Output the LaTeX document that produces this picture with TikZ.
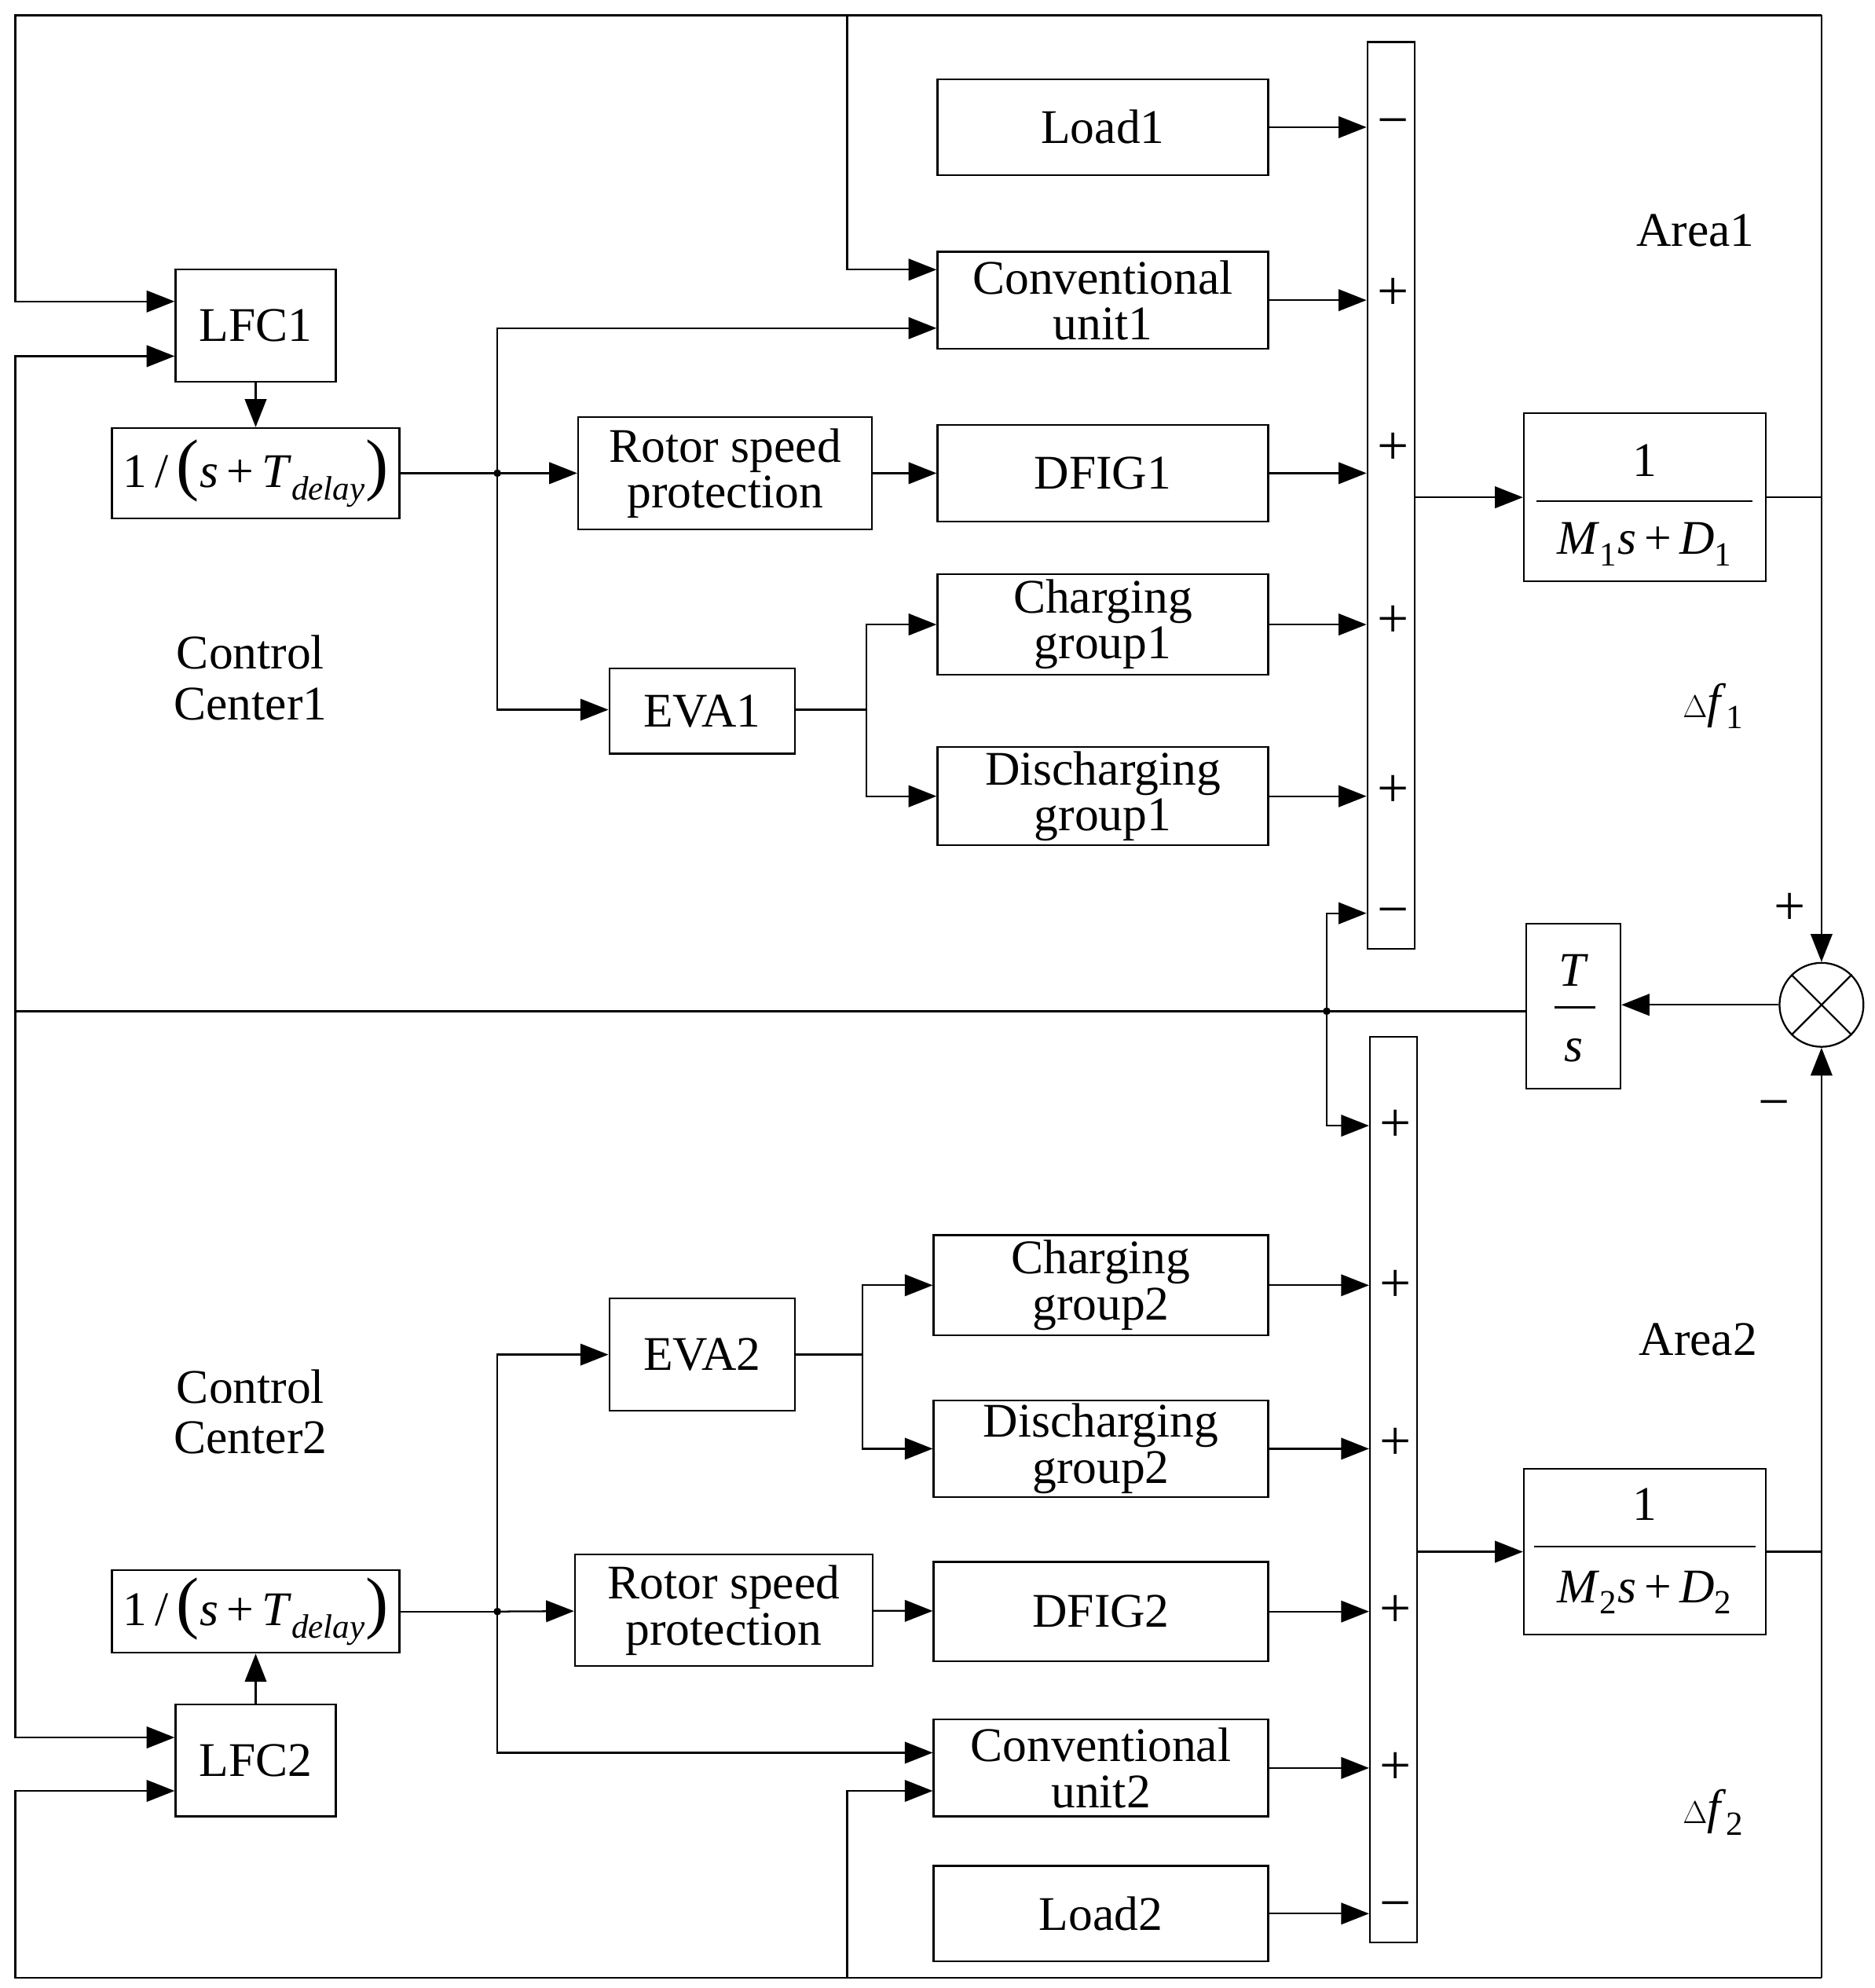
\documentclass[tikz,border=0pt]{standalone}
\usepackage{fontspec}
\setmainfont{Liberation Serif}
\usetikzlibrary{arrows.meta,shapes.misc}
\newcommand{\bigp}[1]{{\fontsize{54}{54}\selectfont #1}}
\newcommand{\dly}{1\,/\,\bigp{(}\textit{s}\,+\,\textit{T}\textsubscript{\textit{delay}}\bigp{)}}
\begin{document}
\begin{tikzpicture}[x=1pt,y=-1pt,
  line width=1.4pt,
  every node/.style={font=\fontsize{38}{40}\selectfont},
  box/.style={draw,inner sep=0pt,align=center,font=\fontsize{38}{36}\selectfont},
  ar/.style={-{Triangle[length=22pt,width=17pt]}},
  sg/.style={font=\fontsize{44}{44}\selectfont}]
\useasboundingbox (0,0) rectangle (1474,1563);
% ---------- Area 1 ----------
\node[box,minimum width=126pt,minimum height=88pt] (lfc1) at (201,256) {LFC1};
\node[box,minimum width=226pt,minimum height=71pt] (del1) at (201,372) {\dly};
\node[box,minimum width=231pt,minimum height=88pt] (rot1) at (570,372) {Rotor speed\\protection};
\node[box,minimum width=260pt,minimum height=75pt] (load1) at (867,100) {Load1};
\node[box,minimum width=260pt,minimum height=76pt] (conv1) at (867,236) {Conventional\\unit1};
\node[box,minimum width=260pt,minimum height=76pt] (dfig1) at (867,372) {DFIG1};
\node[box,minimum width=260pt,minimum height=79pt] (chg1) at (867,491) {Charging\\group1};
\node[box,minimum width=260pt,minimum height=77pt] (dis1) at (867,626) {Discharging\\group1};
\node[box,minimum width=146pt,minimum height=67pt] (eva1) at (552,559) {EVA1};
\node[box,minimum width=37pt,minimum height=713pt] (bar1) at (1093.5,389.5) {};
\node[box,minimum width=190pt,minimum height=132pt] (g1) at (1293,391) {};
\node at (1293,362) {1};
\draw (1208,394) -- (1378,394);
\node at (1293,428) {\textit{M}\textsubscript{1}\textit{s}\,+\,\textit{D}\textsubscript{1}};
% ---------- Area 2 ----------
\node[box,minimum width=126pt,minimum height=88pt] (lfc2) at (201,1384) {LFC2};
\node[box,minimum width=226pt,minimum height=65pt] (del2) at (201,1267) {\dly};
\node[box,minimum width=234pt,minimum height=88pt] (rot2) at (569,1266) {Rotor speed\\protection};
\node[box,minimum width=263pt,minimum height=79pt] (chg2) at (865.5,1010.5) {Charging\\group2};
\node[box,minimum width=263pt,minimum height=76pt] (dis2) at (865.5,1139) {Discharging\\group2};
\node[box,minimum width=263pt,minimum height=78pt] (dfig2) at (865.5,1267) {DFIG2};
\node[box,minimum width=263pt,minimum height=76pt] (conv2) at (865.5,1390) {Conventional\\unit2};
\node[box,minimum width=263pt,minimum height=75pt] (load2) at (865.5,1504.5) {Load2};
\node[box,minimum width=146pt,minimum height=88pt] (eva2) at (552,1065) {EVA2};
\node[box,minimum width=37pt,minimum height=712pt] (bar2) at (1095.5,1171) {};
\node[box,minimum width=190pt,minimum height=130pt] (g2) at (1293,1220) {};
\node at (1293,1183) {1};
\draw (1206,1216) -- (1380,1216);
\node at (1293,1252) {\textit{M}\textsubscript{2}\textit{s}\,+\,\textit{D}\textsubscript{2}};
% ---------- tie ----------
\node[box,minimum width=74pt,minimum height=130pt] (ts) at (1237,791) {};
\node at (1237,763) {\textit{T}};
\draw (1222,792) -- (1254,792);
\node at (1237,826) {\textit{s}};
\node[draw,circle,minimum size=66pt,inner sep=0pt] (sum) at (1432,790) {};
\draw (sum.north west) -- (sum.south east) (sum.north east) -- (sum.south west);
% labels
\node at (1333,181) {Area1};
\node at (1335,1053) {Area2};
\node at (1347,555) {$\Delta$\textit{f}\textsubscript{1}};
\node at (1347,1425) {$\Delta$\textit{f}\textsubscript{2}};
\node[align=center] at (197,533) {Control\\Center1};
\node[align=center] at (197,1110) {Control\\Center2};
\node[sg] at (1407,715) {+};
\node[sg] at (1395,873) {−};
% signs in bars
\foreach \y/\s in {101/−,231/+,353/+,489/+,622/+,722/−}{\node[sg] at (1095,\y) {\s};}
\foreach \y/\s in {885/+,1011/+,1135/+,1267/+,1390/+,1503/−}{\node[sg] at (1097,\y) {\s};}
% ---------- coordinates ----------
\coordinate (tl) at (12,12);
\coordinate (tr) at (1432,12);
\coordinate (bl) at (12,1555);
\coordinate (br) at (1432,1555);
\coordinate (j1) at (391,372);
\coordinate (j2) at (391,1267);
\coordinate (tj) at (1043,795);
\coordinate (tleft) at (12,795);
\coordinate (ej1) at (681,558);
\coordinate (ej2) at (678,1065);
\fill (j1) circle (3pt) (j2) circle (3pt) (tj) circle (3pt);
% ---------- connectors area1 ----------
\draw[ar] (tr) -- (tl) -- (12,237) -- (lfc1.west |- 0,237);
\draw[ar] (666,12) -- (666,212) -- (conv1.west |- 0,212);
\draw[ar] (tleft) -- (12,280) -- (lfc1.west |- 0,280);
\draw[ar] (lfc1) -- (del1);
\draw (del1.east) -- (j1);
\draw[ar] (j1) -- (rot1);
\draw[ar] (j1) -- (391,258) -- (conv1.west |- 0,258);
\draw[ar] (j1) -- (391,558) -- (eva1.west |- 0,558);
\draw[ar] (rot1) -- (dfig1);
\draw (eva1.east |- ej1) -- (ej1);
\draw[ar] (ej1) |- (chg1.west);
\draw[ar] (ej1) |- (dis1.west);
\foreach \n in {load1,conv1,dfig1,chg1,dis1}{\draw[ar] (\n.east) -- (bar1.west |- \n.east);}
\draw[ar] (tj) |- (bar1.west |- 0,718);
\draw[ar] (bar1.east |- g1) -- (g1.west);
\draw (g1.east) -- (1432,391);
\draw[ar] (tr) -- (sum.north);
% ---------- tie line ----------
\draw[ar] (sum.west) -- (ts.east |- sum.west);
\draw (ts.west |- tleft) -- (tleft);
% ---------- connectors area2 ----------
\draw[ar] (tj) |- (bar2.west |- 0,885);
\draw[ar] (tleft) -- (12,1366) -- (lfc2.west |- 0,1366);
\draw[ar] (br) -- (bl) -- (12,1408) -- (lfc2.west |- 0,1408);
\draw[ar] (666,1555) -- (666,1408) -- (conv2.west |- 0,1408);
\draw[ar] (lfc2) -- (del2);
\draw (del2.east) -- (j2);
\draw[ar] (j2) -- (rot2);
\draw[ar] (j2) -- (391,1065) -- (eva2.west |- 0,1065);
\draw[ar] (j2) -- (391,1378) -- (conv2.west |- 0,1378);
\draw[ar] (rot2) -- (dfig2);
\draw (eva2.east |- ej2) -- (ej2);
\draw[ar] (ej2) |- (chg2.west);
\draw[ar] (ej2) |- (dis2.west);
\foreach \n in {chg2,dis2,dfig2,conv2,load2}{\draw[ar] (\n.east) -- (bar2.west |- \n.east);}
\draw[ar] (bar2.east |- g2) -- (g2.west);
\draw (g2.east) -- (1432,1220);
\draw[ar] (br) -- (sum.south);
\end{tikzpicture}
\end{document}
